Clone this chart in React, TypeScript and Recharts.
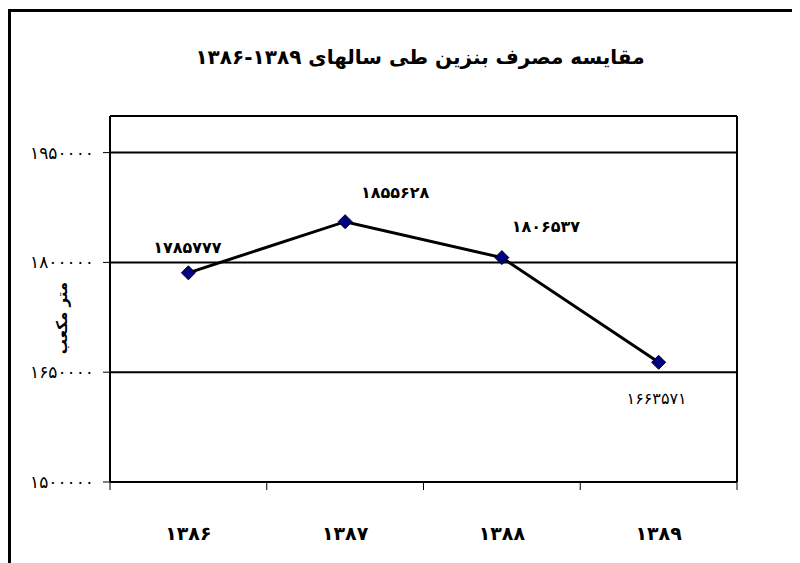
import React from "react";
import {
  LineChart,
  Line,
  XAxis,
  YAxis,
  CartesianGrid,
  ReferenceLine,
  LabelList,
} from "recharts";

const years = ["۱۳۸۶", "۱۳۸۷", "۱۳۸۸", "۱۳۸۹"];
const consumption = [1785777, 1855628, 1806537, 1663571];
const yTicks = [1500000, 1650000, 1800000, 1950000];
const yDomain = [1500000, 2000000];

const FONT = "'DejaVu Sans', sans-serif";

// Persian digits for all numbers shown
const faDigits = "۰۱۲۳۴۵۶۷۸۹";
const toFa = (n: number | string) => String(n).replace(/\d/g, (d) => faDigits[+d]);

// categories sit in the middle of each band, ticks on band edges (like Excel)
const chartData = years.map((year, i) => ({ pos: i + 0.5, year, value: consumption[i] }));
const xTicks = [0, 0.5, 1, 1.5, 2, 2.5, 3, 3.5, 4];

// where each data label sits relative to its point
const labelNudge = [
  { dx: -1, dy: -25, bold: true },
  { dx: 50, dy: -29, bold: true },
  { dx: 44, dy: -31, bold: true },
  { dx: -2, dy: 36, bold: false },
];

function YearTick({ x, y, payload }: any) {
  const v = payload.value;
  if (Number.isInteger(v)) {
    return <line x1={x} x2={x} y1={y} y2={y + 8} stroke="#000" strokeWidth={1} />;
  }
  return (
    <text
      x={x}
      y={y + 51}
      textAnchor="middle"
      dominantBaseline="central"
      fontFamily={FONT}
      fontSize={19}
      fontWeight={700}
      letterSpacing={1}
      fill="#000"
    >
      {years[Math.floor(v)]}
    </text>
  );
}

function Diamond({ cx, cy, index }: any) {
  const r = 7;
  return (
    <path
      key={`d-${index}`}
      d={`M${cx},${cy - r}L${cx + r},${cy}L${cx},${cy + r}L${cx - r},${cy}Z`}
      fill="#000080"
      stroke="#000"
      strokeWidth={1}
    />
  );
}

function ValueLabel({ x, y, index, value }: any) {
  const n = labelNudge[index];
  return (
    <text
      x={x + n.dx}
      y={y + n.dy}
      textAnchor="middle"
      dominantBaseline="central"
      fontFamily={FONT}
      fontSize={16}
      fontWeight={n.bold ? 700 : 400}
      fill="#000"
    >
      {toFa(value)}
    </text>
  );
}

export default function App() {
  return (
    <div
      style={{
        position: "relative",
        width: 792,
        height: 555,
        overflow: "hidden",
        background: "#fff",
        fontFamily: FONT,
      }}
    >
      <div
        style={{
          position: "absolute",
          left: 0,
          top: 1,
          width: 900,
          height: 700,
          border: "3px solid #000",
        }}
      />
      <div
        dir="rtl"
        style={{
          position: "absolute",
          left: 0,
          top: 36,
          width: 824,
          textAlign: "center",
          fontSize: 20,
          fontWeight: 700,
          lineHeight: "26px",
        }}
      >
        مقایسه مصرف بنزین طی سالهای ۱۳۸۹-۱۳۸۶
      </div>
      <div
        dir="rtl"
        style={{
          position: "absolute",
          left: 54,
          top: 310,
          transform: "translate(-50%, -50%) rotate(-90deg)",
          fontSize: 15,
          fontWeight: 700,
          whiteSpace: "nowrap",
          lineHeight: "18px",
        }}
      >
        متر مکعب
      </div>
      <div style={{ position: "absolute", left: 0, top: 0 }}>
        <LineChart
          width={792}
          height={555}
          data={chartData}
          margin={{ top: 108, right: 63, bottom: 0, left: 0 }}
        >
          <CartesianGrid vertical={false} stroke="#000" strokeWidth={2} />
          <XAxis
            dataKey="pos"
            type="number"
            domain={[0, 4]}
            ticks={xTicks}
            interval={0}
            height={81}
            tickSize={0}
            tickMargin={0}
            tickLine={false}
            tick={<YearTick />}
            axisLine={{ stroke: "#000", strokeWidth: 2 }}
          />
          <YAxis
            type="number"
            domain={yDomain}
            ticks={yTicks}
            width={102}
            tickSize={7}
            tickMargin={9}
            tickFormatter={(v: number) => toFa(v)}
            tick={{ fontSize: 17, fill: "#000", fontFamily: FONT, letterSpacing: 3 }}
            tickLine={{ stroke: "#000" }}
            axisLine={{ stroke: "#000", strokeWidth: 2 }}
          />
          <ReferenceLine y={2000000} stroke="#000" strokeWidth={2} />
          <ReferenceLine x={4} stroke="#000" strokeWidth={2} />
          <Line
            dataKey="value"
            stroke="#000"
            strokeWidth={3}
            dot={(p: any) => <Diamond {...p} />}
            isAnimationActive={false}
          >
            <LabelList dataKey="value" content={<ValueLabel />} />
          </Line>
        </LineChart>
      </div>
    </div>
  );
}
